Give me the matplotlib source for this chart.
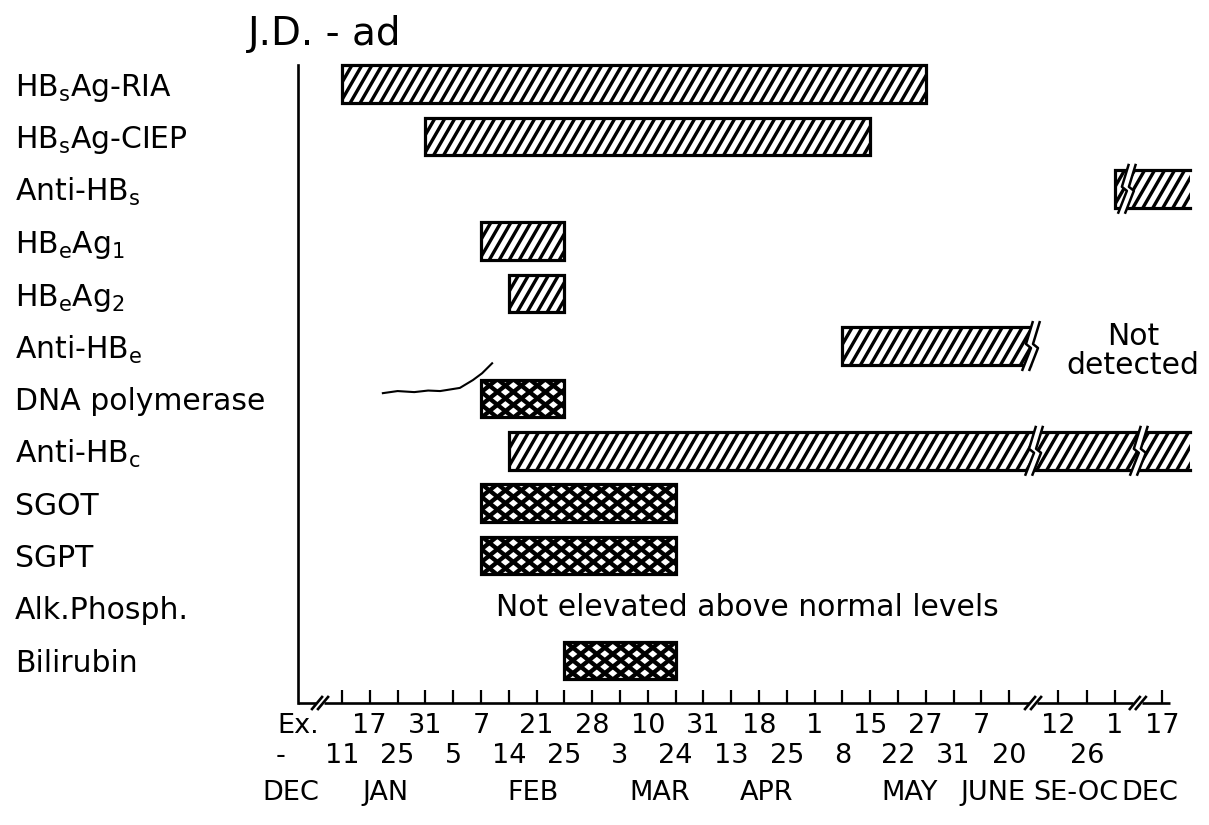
#!/usr/bin/env python3
"""Serologic / biochemical course of hepatitis B markers for patient J.D. (subtype ad)."""
import matplotlib
matplotlib.use("Agg")
import matplotlib.pyplot as plt
from matplotlib.patches import Rectangle, Polygon
from matplotlib.collections import LineCollection
import numpy as np

plt.rcParams["font.family"] = ["DejaVu Sans"]
plt.rcParams["mathtext.fontset"] = "dejavusans"
FS = 21.5      # row labels and notes
FS_TICK = 19.5

# rows, top to bottom
MARKERS = ["HB$_\\mathrm{s}$Ag-RIA", "HB$_\\mathrm{s}$Ag-CIEP", "Anti-HB$_\\mathrm{s}$",
           "HB$_\\mathrm{e}$Ag$_\\mathrm{1}$", "HB$_\\mathrm{e}$Ag$_\\mathrm{2}$", "Anti-HB$_\\mathrm{e}$",
           "DNA polymerase", "Anti-HB$_\\mathrm{c}$", "SGOT", "SGPT", "Alk.Phosph.", "Bilirubin"]

# positive periods on the sampling-date scale (tick slots); nan = never positive
BAR_START = [0, 3, 27.8, 5, 6, 18, 5, 6, 5, 5, np.nan, 8]
BAR_END = [21, 19, 30.5, 8, 8, 24.75, 8, 30.5, 12, 12, np.nan, 12]
BAR_FILL = ["/", "/", "/", "/", "/", "/", "x", "/", "x", "x", "", "x"]   # "/" antigen/antibody, "x" enzyme
BAR_OPEN = [False, False, True, False, False, True, False, True, False, False, False, False]
BAR_BREAKS = [[], [], [28.2], [], [], [24.75], [], [24.86, 28.63], [], [], [], []]

NOTE_ROW = [5.1, 10]
NOTE_X = [28.45, 14.6]
NOTE_TEXT = ["Not\ndetected", "Not elevated above normal levels"]

# sampling dates
TICK_X = [0, 1, 2, 3, 4, 5, 6, 7, 8, 9, 10, 11, 12, 13, 14, 15, 16, 17, 18, 19, 20, 21, 22, 23, 24,
          25.75, 26.8, 27.8, 29.5]
TICK_LABELS = ["11", "17", "25", "31", "5", "7", "14", "21", "25", "28", "3", "10", "24", "31", "13",
               "18", "25", "1", "8", "15", "22", "27", "31", "7", "20", "12", "26", "1", "17"]
TICK_LINE = [1, 0, 1, 0, 1, 0, 1, 0, 1, 0, 1, 0, 1, 0, 1, 0, 1, 0, 1, 0, 1, 0, 1, 0, 1, 0, 1, 0, 0]
MONTHS = ["DEC", "JAN", "FEB", "MAR", "APR", "MAY", "JUNE", "SE-OC", "DEC"]
MONTH_X = [-1.85, 1.55, 6.87, 11.44, 15.29, 20.43, 23.42, 26.4, 29.05]
AXIS_BREAKS = [-0.79, 24.86, 28.63]

BAR_H = 0.72
fig = plt.figure(figsize=(12.09, 8.25), dpi=100)
ax = fig.add_axes([298 / 1209, 122 / 825, 911 / 1209, 643 / 825])
ax.set_xlim(-1.583, 31.19)
ax.set_ylim(11.813, -0.458)
fig.canvas.draw()


def to_px(pts):
    return ax.transData.transform(pts)


def to_data(pts):
    return ax.transData.inverted().transform(pts)


def hatch_segments(x0, x1, y0, y1, style):
    (ax0, ay0), (ax1, ay1) = to_px([(x0, y0), (x1, y1)])
    left, right = min(ax0, ax1), max(ax0, ax1)
    bot, top = min(ay0, ay1), max(ay0, ay1)
    h = top - bot
    segs = []
    if style == "/":
        run = h / np.tan(np.radians(60))
        for c in np.arange(left - run - 10, right + 10, 10.0):
            segs.append(to_data([(c, bot), (c + run, top)]))
    else:
        run = h / 0.8
        for c in np.arange(left - run - 16, right + 16, 16.0):
            segs.append(to_data([(c, bot), (c + run, top)]))
            segs.append(to_data([(c, top), (c + run, bot)]))
    return segs


def bar_break(x, row):
    cx, cy = to_px([(x, row)])[0]
    zig = np.array([(6, 25), (-1, 2), (4, -2), (-5, -25)], float)
    left = zig + (cx - 3, cy)
    right = zig + (cx + 4, cy)
    ax.add_patch(Polygon(to_data(np.vstack([left, right[::-1]])), closed=True,
                         facecolor="white", edgecolor="none", zorder=4.5))
    for line in (left, right):
        d = to_data(line)
        ax.plot(d[:, 0], d[:, 1], color="black", lw=1.8, zorder=5, solid_capstyle="butt")


for row in range(len(MARKERS)):
    x0, x1 = BAR_START[row], BAR_END[row]
    if np.isnan(x0):
        continue
    y0, y1 = row - BAR_H / 2, row + BAR_H / 2
    base = Rectangle((x0, y0), x1 - x0, BAR_H, facecolor="white", edgecolor="none", zorder=2)
    ax.add_patch(base)
    lw = 2.4 if BAR_FILL[row] == "/" else 3.1
    lc = LineCollection(hatch_segments(x0, x1, y0, y1, BAR_FILL[row]), colors="black",
                        linewidths=lw, zorder=3, capstyle="butt")
    ax.add_collection(lc)
    lc.set_clip_path(base)
    if BAR_OPEN[row]:
        ax.plot([x1, x0, x0, x1], [y0, y0, y1, y1], color="black", lw=2.3, zorder=4,
                solid_joinstyle="miter")
    else:
        ax.add_patch(Rectangle((x0, y0), x1 - x0, BAR_H, fill=False, edgecolor="black",
                               lw=2.3, zorder=4, joinstyle="miter"))
    for xb in BAR_BREAKS[row]:
        bar_break(xb, row)

for row, x, txt in zip(NOTE_ROW, NOTE_X, NOTE_TEXT):
    ax.text(x, row, txt, ha="center", va="center", fontsize=FS, linespacing=1.0)

# pen stroke left on the sheet next to DNA polymerase
ax.plot([1.47, 2.0, 2.6, 3.1, 3.53, 4.24, 4.71, 5.04, 5.40],
        [5.90, 5.86, 5.88, 5.85, 5.86, 5.80, 5.65, 5.52, 5.33],
        color="black", lw=1.5, zorder=6)

# y axis: one label per marker, left aligned at the page margin
for side in ("top", "right", "bottom"):
    ax.spines[side].set_visible(False)
ax.spines["left"].set_linewidth(1.9)
ax.spines["left"].set_bounds(-0.363, 11.813)
ax.set_yticks(range(len(MARKERS)), MARKERS, fontsize=FS)
for lbl in ax.get_yticklabels():
    lbl.set_ha("left")
ax.tick_params(axis="y", length=0, pad=283 * 0.72)

# x axis with broken baseline
ax.set_xticks(TICK_X, [""] * len(TICK_X))
ax.tick_params(axis="x", direction="in", length=9.5, width=1.6, pad=0)
xt = ax.get_xaxis_transform()
seg_edges = [-1.583]
for b in AXIS_BREAKS:
    seg_edges += [b - 0.16, b + 0.16]
seg_edges.append(29.8)
for a, b in zip(seg_edges[0::2], seg_edges[1::2]):
    ax.plot([a, b], [0, 0], color="black", lw=1.9, transform=xt, clip_on=False,
            solid_capstyle="butt")
for b in AXIS_BREAKS:
    bx, by = to_px([(b, 11.813)])[0]
    for dx in (-3, 3):
        d = to_data([(bx + dx - 5, by - 6), (bx + dx + 5, by + 6)])
        ax.plot(d[:, 0], d[:, 1], color="black", lw=1.9, clip_on=False)

row_y = [-0.0358, -0.0824]
for x, lbl, line in zip(TICK_X, TICK_LABELS, TICK_LINE):
    ax.text(x, row_y[line], lbl, transform=xt, ha="center", va="center", fontsize=FS_TICK)
ax.text(-1.58, row_y[0], "Ex.", transform=xt, ha="center", va="center", fontsize=FS_TICK)
ax.text(-2.2, row_y[1], "-", transform=xt, ha="center", va="center", fontsize=FS_TICK)
for x, m in zip(MONTH_X, MONTHS):
    ax.text(x, -0.140, m, transform=xt, ha="center", va="center", fontsize=FS_TICK)

fig.text(248 / 1209, 1 - 45 / 825, "J.D. - ad", ha="left", va="baseline", fontsize=28)

fig.savefig("out.png", dpi=100, facecolor="white")
